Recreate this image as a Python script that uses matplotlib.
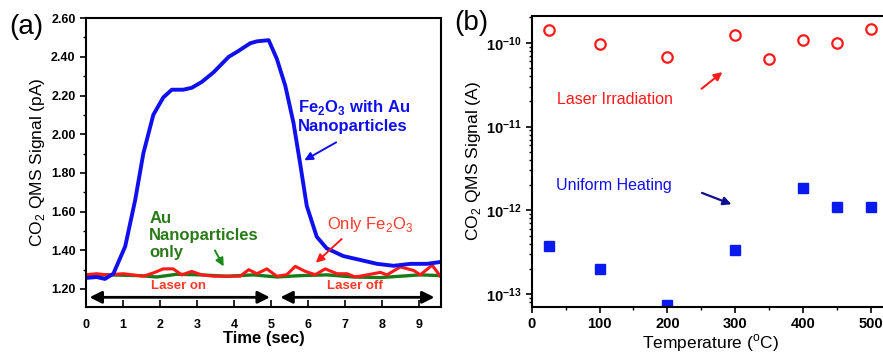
import numpy as np
import matplotlib.pyplot as plt
from matplotlib.ticker import MultipleLocator, FixedLocator, FuncFormatter

plt.rcParams['font.family'] = ['Liberation Sans', 'DejaVu Sans']
plt.rcParams['mathtext.fontset'] = 'custom'
plt.rcParams['mathtext.rm'] = 'Liberation Sans'
plt.rcParams['mathtext.bf'] = 'Liberation Sans:bold'

# panel (a): CO2 signal vs time
t_blue = [0, 0.29, 0.51, 0.74, 1.06, 1.33, 1.55, 1.82, 2.09, 2.32, 2.63, 2.86, 3.13, 3.45,
          3.86, 4.12, 4.44, 4.62, 4.94, 5.16, 5.39, 5.61, 5.79, 5.97, 6.24, 6.51, 6.96,
          7.42, 7.87, 8.32, 8.77, 9.22, 9.60]
s_blue = [1.257, 1.262, 1.252, 1.279, 1.42, 1.66, 1.90, 2.10, 2.19, 2.23, 2.23, 2.24, 2.27, 2.32,
          2.40, 2.43, 2.47, 2.48, 2.486, 2.39, 2.25, 2.06, 1.85, 1.63, 1.47, 1.41, 1.37,
          1.35, 1.33, 1.32, 1.33, 1.33, 1.34]
t_red = [0, 0.29, 0.56, 1.01, 1.55, 1.82, 2.09, 2.36, 2.59, 2.86, 3.13, 3.45, 3.90, 4.17,
         4.40, 4.62, 4.89, 5.16, 5.43, 5.66, 5.93, 6.20, 6.47, 6.79, 7.06, 7.28, 7.60,
         7.96, 8.14, 8.50, 8.86, 9.04, 9.36, 9.60]
s_red = [1.274, 1.279, 1.273, 1.279, 1.266, 1.283, 1.304, 1.304, 1.273, 1.291, 1.273, 1.266, 1.266, 1.266,
         1.300, 1.279, 1.304, 1.266, 1.274, 1.317, 1.291, 1.274, 1.304, 1.279, 1.279, 1.262, 1.273,
         1.286, 1.273, 1.314, 1.296, 1.273, 1.323, 1.262]
t_green = [0, 0.56, 1.46, 1.91, 2.45, 3.09, 3.81, 4.53, 5.16, 5.79, 6.52, 7.24, 7.96, 8.50, 9.04, 9.60]
s_green = [1.269, 1.273, 1.269, 1.262, 1.276, 1.273, 1.266, 1.273, 1.262, 1.269, 1.273, 1.262, 1.259,
           1.266, 1.273, 1.269]

# panel (b): CO2 signal vs temperature
temp_laser = [25, 100, 200, 300, 350, 400, 450, 500]
sig_laser = [1.42e-10, 9.7e-11, 6.8e-11, 1.24e-10, 6.4e-11, 1.09e-10, 9.9e-11, 1.46e-10]
temp_heat = [25, 100, 200, 300, 400, 450, 500]
sig_heat = [3.8e-13, 2.0e-13, 7.4e-14, 3.4e-13, 1.86e-12, 1.1e-12, 1.1e-12]

fig = plt.figure(figsize=(8.83, 3.54), dpi=100)

# ---- (a)
ax1 = fig.add_axes([0.0974, 0.1328, 0.402, 0.816])
ax1.plot(t_green, s_green, color='#1a7a1a', lw=2.4)
ax1.plot(t_red, s_red, color='#ff1a1a', lw=2.2)
ax1.plot(t_blue, s_blue, color='#1010ee', lw=2.8)
ax1.set_xlim(0, 9.6)
ax1.set_ylim(1.107, 2.60)
ax1.yaxis.set_major_locator(MultipleLocator(0.2))
ax1.yaxis.set_minor_locator(MultipleLocator(0.1))
ax1.yaxis.set_major_formatter(FuncFormatter(lambda v, p: '%.2f' % v))
ax1.xaxis.set_major_locator(MultipleLocator(1))
ax1.tick_params(axis='y', which='major', direction='out', length=4, width=1.2, labelsize=9)
ax1.tick_params(axis='y', which='minor', direction='out', length=2, width=1)
ax1.tick_params(axis='x', direction='in', length=5, width=1.2, labelsize=9, pad=9)
for lab in ax1.get_xticklabels() + ax1.get_yticklabels():
    lab.set_fontweight('bold')
for sp in ax1.spines.values():
    sp.set_linewidth(1.5)
ax1.set_xlabel('Time (sec)', fontsize=12, fontweight='bold', labelpad=0)
ax1.set_ylabel('CO$_2$ QMS Signal (pA)', fontsize=12.5, labelpad=3)

ax1.annotate('', xy=(0.02, 1.157), xytext=(5.05, 1.157),
             arrowprops=dict(arrowstyle='<|-|>', color='black', lw=2, mutation_scale=18))
ax1.annotate('', xy=(5.18, 1.157), xytext=(9.5, 1.157),
             arrowprops=dict(arrowstyle='<|-|>', color='black', lw=2, mutation_scale=18))
ax1.text(2.5, 1.214, 'Laser on', color='#ff3a2a', fontsize=9.5, fontweight='bold', ha='center', va='center')
ax1.text(7.27, 1.214, 'Laser off', color='#ff3a2a', fontsize=9.5, fontweight='bold', ha='center', va='center')

ax1.text(5.73, 2.094, 'Fe$_\\mathbf{2}$O$_\\mathbf{3}$ with Au\nNanoparticles', color='#1010ee',
         fontsize=12, fontweight='bold', ha='left', va='center', linespacing=1.2)
ax1.annotate('', xy=(5.84, 1.858), xytext=(6.83, 1.965),
             arrowprops=dict(arrowstyle='-|>', color='#1010ee', lw=1.4, mutation_scale=12))
ax1.text(1.71, 1.476, 'Au\nNanoparticles\nonly', color='#2a7a1a', fontsize=12, fontweight='bold',
         ha='left', va='center', linespacing=1.2)
ax1.annotate('', xy=(3.76, 1.304), xytext=(3.45, 1.412),
             arrowprops=dict(arrowstyle='-|>', color='#1a8a1a', lw=1.4, mutation_scale=12))
ax1.text(6.52, 1.535, 'Only Fe$_2$O$_3$', color='#ff3a2a', fontsize=12, ha='left', va='center')
ax1.annotate('', xy=(6.16, 1.326), xytext=(6.97, 1.468),
             arrowprops=dict(arrowstyle='-|>', color='#ff1a1a', lw=1.4, mutation_scale=12))
fig.text(0.011, 0.925, '(a)', fontsize=20, ha='left', va='center')

# ---- (b)
ax2 = fig.add_axes([0.602, 0.1336, 0.404, 0.8215])
ax2.semilogy(temp_laser, sig_laser, 'o', ms=7.5, mfc='none', mec='#ff1a1a', mew=1.6)
ax2.semilogy(temp_heat, sig_heat, 's', ms=6.5, color='#0a1aee')
ax2.set_xlim(0, 525)
ax2.set_ylim(10 ** -13.15, 10 ** -9.68)
ax2.xaxis.set_major_locator(MultipleLocator(100))
ax2.xaxis.set_minor_locator(MultipleLocator(50))
ax2.yaxis.set_major_locator(FixedLocator([1e-13, 1e-12, 1e-11, 1e-10]))
ax2.yaxis.set_major_formatter(FuncFormatter(
    lambda v, p: '$\\mathbf{10^{%d}}$' % int(round(np.log10(v)))))
ax2.tick_params(axis='both', which='major', direction='out', length=4, width=1.2, labelsize=10.5)
ax2.tick_params(axis='both', which='minor', direction='out', length=2, width=1)
for lab in ax2.get_xticklabels():
    lab.set_fontweight('bold')
for sp in ax2.spines.values():
    sp.set_linewidth(1.5)
ax2.set_xlabel('Temperature ($^\\mathrm{o}$C)', fontsize=12.5, labelpad=1)
ax2.set_ylabel('CO$_2$ QMS Signal (A)', fontsize=12.5, labelpad=2)

ax2.text(37, 10 ** -10.68, 'Laser Irradiation', color='#ff1a1a', fontsize=11.5, ha='left', va='center')
ax2.annotate('', xy=(284, 10 ** -10.33), xytext=(247, 10 ** -10.57),
             arrowprops=dict(arrowstyle='-|>', color='#ff1a1a', lw=1.5, mutation_scale=12))
ax2.text(36, 10 ** -11.70, 'Uniform Heating', color='#1010ee', fontsize=11.5, ha='left', va='center')
ax2.annotate('', xy=(298, 10 ** -11.94), xytext=(247, 10 ** -11.78),
             arrowprops=dict(arrowstyle='-|>', color='#10108e', lw=1.6, mutation_scale=12))
fig.text(0.515, 0.935, '(b)', fontsize=20, ha='left', va='center')

fig.savefig('out.png', dpi=100)
